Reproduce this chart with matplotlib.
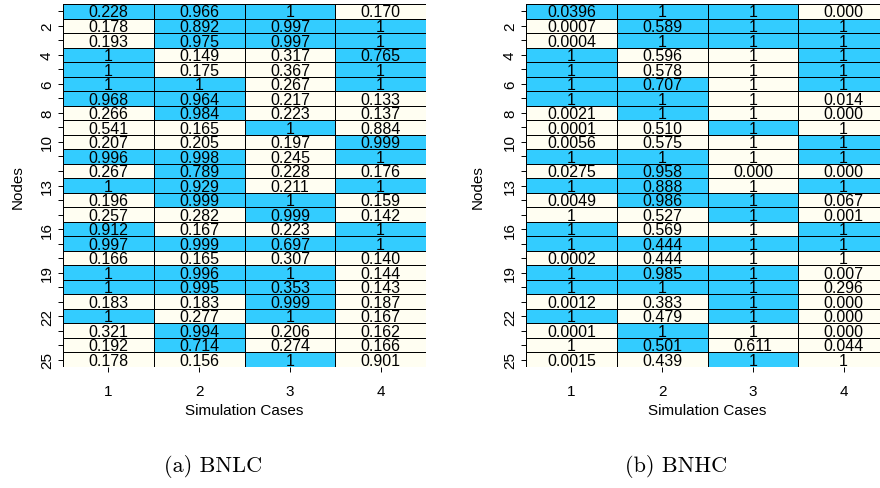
import numpy as np
import matplotlib
matplotlib.use("Agg")
import matplotlib.pyplot as plt
from matplotlib.colors import ListedColormap

# cell texts, rows = nodes 1..25, columns = simulation cases 1..4
bnlc_text = [
    ["0.228", "0.966", "1", "0.170"],
    ["0.178", "0.892", "0.997", "1"],
    ["0.193", "0.975", "0.997", "1"],
    ["1", "0.149", "0.317", "0.765"],
    ["1", "0.175", "0.367", "1"],
    ["1", "1", "0.267", "1"],
    ["0.968", "0.964", "0.217", "0.133"],
    ["0.266", "0.984", "0.223", "0.137"],
    ["0.541", "0.165", "1", "0.884"],
    ["0.207", "0.205", "0.197", "0.999"],
    ["0.996", "0.998", "0.245", "1"],
    ["0.267", "0.789", "0.228", "0.176"],
    ["1", "0.929", "0.211", "1"],
    ["0.196", "0.999", "1", "0.159"],
    ["0.257", "0.282", "0.999", "0.142"],
    ["0.912", "0.167", "0.223", "1"],
    ["0.997", "0.999", "0.697", "1"],
    ["0.166", "0.165", "0.307", "0.140"],
    ["1", "0.996", "1", "0.144"],
    ["1", "0.995", "0.353", "0.143"],
    ["0.183", "0.183", "0.999", "0.187"],
    ["1", "0.277", "1", "0.167"],
    ["0.321", "0.994", "0.206", "0.162"],
    ["0.192", "0.714", "0.274", "0.166"],
    ["0.178", "0.156", "1", "0.901"],
]
# 1 = highlighted (blue) cell
bnlc_hi = [
    [1, 1, 1, 0], [0, 1, 1, 1], [0, 1, 1, 1], [1, 0, 0, 1], [1, 0, 0, 1],
    [1, 1, 0, 1], [1, 1, 0, 0], [0, 1, 0, 0], [0, 0, 1, 0], [0, 0, 0, 1],
    [1, 1, 0, 1], [0, 1, 0, 0], [1, 1, 0, 1], [0, 1, 1, 0], [0, 0, 1, 0],
    [1, 0, 0, 1], [1, 1, 1, 1], [0, 0, 0, 0], [1, 1, 1, 0], [1, 1, 1, 0],
    [0, 0, 1, 0], [1, 0, 1, 0], [0, 1, 0, 0], [0, 1, 0, 0], [0, 0, 1, 0],
]

bnhc_text = [
    ["0.0396", "1", "1", "0.000"],
    ["0.0007", "0.589", "1", "1"],
    ["0.0004", "1", "1", "1"],
    ["1", "0.596", "1", "1"],
    ["1", "0.578", "1", "1"],
    ["1", "0.707", "1", "1"],
    ["1", "1", "1", "0.014"],
    ["0.0021", "1", "1", "0.000"],
    ["0.0001", "0.510", "1", "1"],
    ["0.0056", "0.575", "1", "1"],
    ["1", "1", "1", "1"],
    ["0.0275", "0.958", "0.000", "0.000"],
    ["1", "0.888", "1", "1"],
    ["0.0049", "0.986", "1", "0.067"],
    ["1", "0.527", "1", "0.001"],
    ["1", "0.569", "1", "1"],
    ["1", "0.444", "1", "1"],
    ["0.0002", "0.444", "1", "1"],
    ["1", "0.985", "1", "0.007"],
    ["1", "1", "1", "0.296"],
    ["0.0012", "0.383", "1", "0.000"],
    ["1", "0.479", "1", "0.000"],
    ["0.0001", "1", "1", "0.000"],
    ["1", "0.501", "0.611", "0.044"],
    ["0.0015", "0.439", "1", "1"],
]
bnhc_hi = [
    [1, 1, 1, 0], [0, 1, 1, 1], [0, 1, 1, 1], [1, 0, 0, 1], [1, 0, 0, 1],
    [1, 1, 0, 1], [1, 1, 0, 0], [0, 1, 0, 0], [0, 0, 1, 0], [0, 0, 0, 1],
    [1, 1, 0, 1], [0, 1, 0, 0], [1, 1, 0, 1], [0, 1, 1, 0], [0, 0, 1, 0],
    [1, 0, 0, 1], [1, 1, 1, 1], [0, 0, 0, 0], [1, 1, 1, 0], [1, 1, 1, 0],
    [0, 0, 1, 0], [1, 0, 1, 0], [0, 1, 0, 0], [0, 1, 0, 0], [0, 0, 1, 0],
]

cases = [1, 2, 3, 4]
nodes = list(range(1, 26))
node_labels = [2, 4, 6, 8, 10, 13, 16, 19, 22, 25]

BLUE = "#33CCFF"
CREAM = "#FFFEF2"

plt.rcParams['font.family'] = ['Liberation Sans', 'DejaVu Sans']


def draw_panel(fig, rect, texts, hi, nodes_x, cases_x):
    ax = fig.add_axes(rect)
    xe = np.arange(0.5, len(cases) + 1)
    ye = np.arange(0.5, len(nodes) + 1)
    ax.pcolormesh(xe, ye, np.array(hi), cmap=ListedColormap([CREAM, BLUE]),
                  vmin=0, vmax=1, edgecolors="black", linewidth=0.68)
    for i, row in enumerate(texts):
        for j, t in enumerate(row):
            ax.text(cases[j], nodes[i] + 0.05, t, ha="center", va="center",
                    fontsize=11.5)
    ax.set_xlim(0.5, len(cases) + 0.5)
    ax.set_ylim(len(nodes) + 0.5, 0.5)
    for s in ax.spines.values():
        s.set_visible(False)
    ax.set_xticks(cases)
    ax.set_xticklabels([str(c) for c in cases])
    ax.set_yticks(nodes)
    ax.set_yticklabels([str(n) if n in node_labels else "" for n in nodes],
                       rotation=90, va="center")
    ax.tick_params(axis="x", length=3.5, width=0.7, pad=9, labelsize=11)
    ax.tick_params(axis="y", length=3.5, width=0.7, pad=3, labelsize=11)
    fig.text(nodes_x, 1 - 187 / 489, "Nodes", rotation=90, ha="center",
             va="center", fontsize=11)
    fig.text(cases_x, 1 - 411 / 489, "Simulation Cases", ha="center",
             va="center", fontsize=11)
    return ax


fig = plt.figure(figsize=(8.8, 4.89), dpi=100)
W, H = 880, 489
top, bottom = 5, 368
draw_panel(fig, [63 / W, 1 - bottom / H, 363 / W, (bottom - top) / H],
           bnlc_text, bnlc_hi, 18 / W, 244.5 / W)
draw_panel(fig, [526 / W, 1 - bottom / H, 363 / W, (bottom - top) / H],
           bnhc_text, bnhc_hi, 478 / W, 707 / W)

fig.text(213 / W, 1 - 467 / H, "(a) BNLC", ha="center", va="center",
         fontsize=16, family="cmr10")
fig.text(676 / W, 1 - 467 / H, "(b) BNHC", ha="center", va="center",
         fontsize=16, family="cmr10")

fig.savefig("out.png", dpi=100)
